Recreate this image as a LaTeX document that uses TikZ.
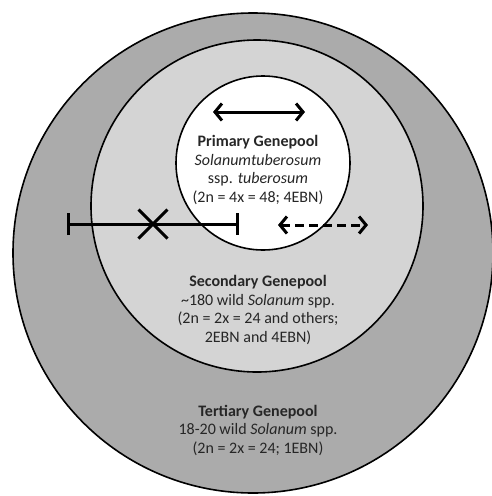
\documentclass[tikz,border=0pt]{standalone}
\usepackage{fontspec}
\setmainfont{Carlito}
\usetikzlibrary{arrows.meta,shapes.misc}

\begin{document}
\begin{tikzpicture}[x=1pt,y=-1pt,
                    pool/.style={circle,draw,line width=1.6pt,inner sep=0pt},
                    pooltext/.style={align=center,text=black!85,
                                     font=\fontsize{16}{18.5}\selectfont},
                    gene/.style={line width=3pt,
                                 {Straight Barb[length=7pt,width=17pt]}-{Straight Barb[length=7pt,width=17pt]}}]

\useasboundingbox (0,0) rectangle (492,496);

% the three genepools
\node[pool,fill=black!33,minimum size=480pt] (tertiary) at (253,253) {};
\node[pool,fill=black!17,minimum size=332pt] (secondary) at (257,206) {};
\node[pool,fill=white,minimum size=174pt] (primary) at (263,163) {};

% gene flow
\coordinate (p1) at (213,112);
\coordinate (p2) at (305,112);
\draw[gene] (p1) -- (p2);

\coordinate (s1) at (278,225);
\coordinate (s2) at (368,225);
\draw[gene,dash pattern=on 9pt off 5pt] (s1) -- (s2);

\coordinate (t1) at (67,224);
\coordinate (t2) at (239,224);
\draw[line width=3pt,{Bar[width=22pt]}-{Bar[width=22pt]}] (t1) -- (t2);
\node[cross out,draw,line width=3pt,minimum size=26pt] (block) at (153,224) {};

% labels
\node[pooltext] (primarytext) at (258,170)
  {\textbf{Primary Genepool}\\ \textit{Solanumtuberosum}\\ ssp. \textit{tuberosum}\\ (2n = 4x = 48; 4EBN)};
\node[pooltext] (secondarytext) at (258,310)
  {\textbf{Secondary Genepool}\\ \textasciitilde180 wild \textit{Solanum} spp.\\ (2n = 2x = 24 and others;\\ 2EBN and 4EBN)};
\node[pooltext] (tertiarytext) at (258,430)
  {\textbf{Tertiary Genepool}\\ 18-20 wild \textit{Solanum} spp.\\ (2n = 2x = 24; 1EBN)};

\end{tikzpicture}
\end{document}
